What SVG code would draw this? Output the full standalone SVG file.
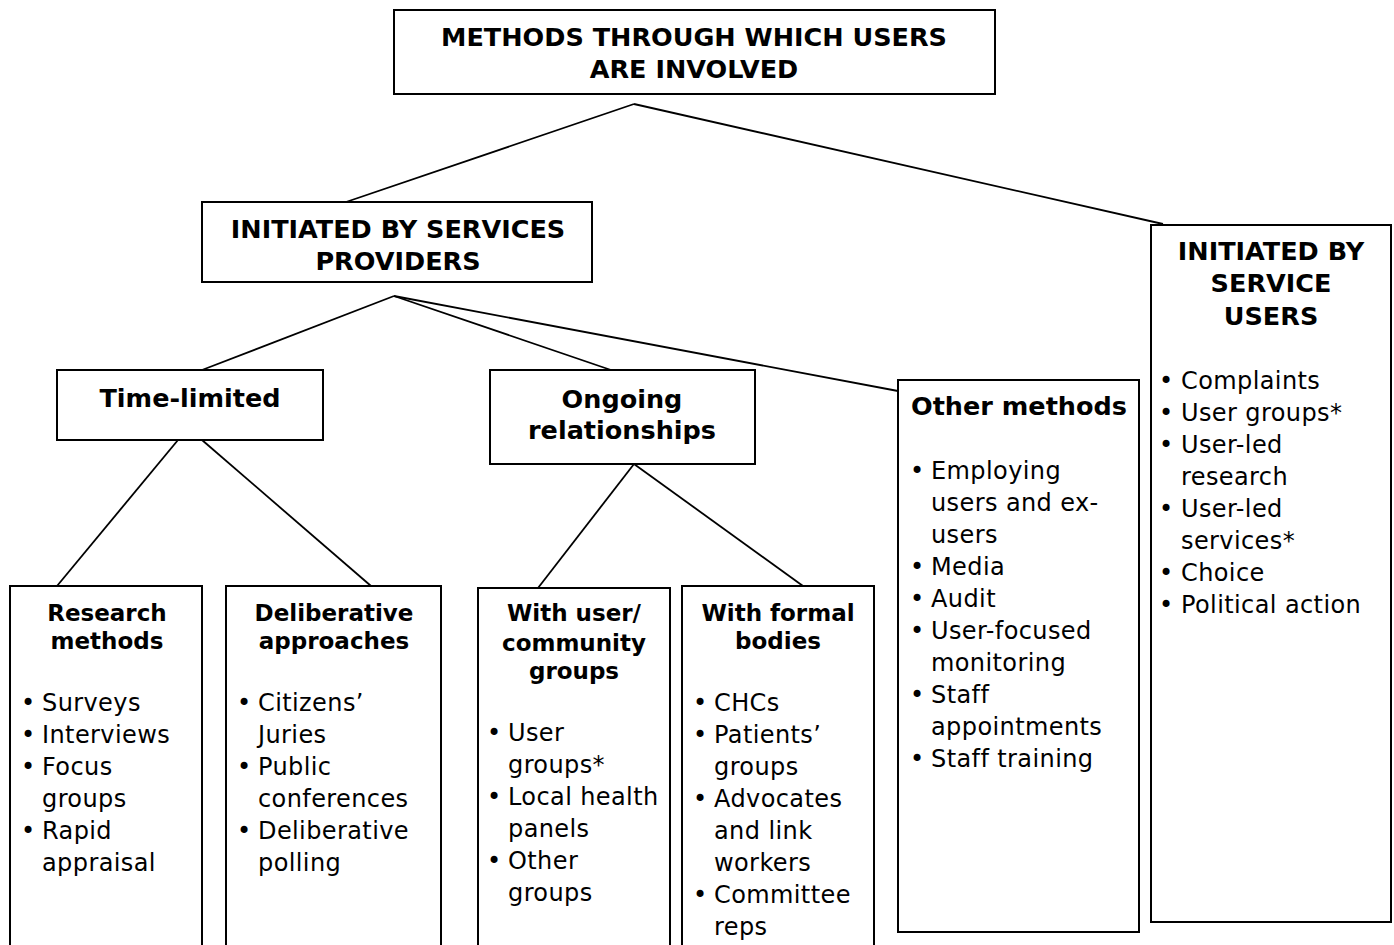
<svg xmlns="http://www.w3.org/2000/svg" width="1394" height="945" viewBox="0 0 1394 945">
<style>
.box{fill:#fff;stroke:#000;stroke-width:2}
.con line{stroke:#000;stroke-width:1.8}
text{font-family:"DejaVu Sans",Verdana,sans-serif;fill:#000}
.h{font-weight:bold;font-size:25.5px;text-anchor:middle}
.hl{font-weight:bold;font-size:25.5px}
.sh{font-weight:bold;font-size:23px;text-anchor:middle}
.t{font-size:24px;letter-spacing:0.4px}
.b{font-size:24px;text-anchor:middle}
</style>
<rect width="1394" height="945" fill="#fff"/>
<g id="connectors" class="con">
<line x1="634" y1="104" x2="346" y2="202"/>
<line x1="634" y1="104" x2="1163" y2="224"/>
<line x1="394" y1="296" x2="202" y2="370"/>
<line x1="394" y1="296" x2="611" y2="370"/>
<line x1="394" y1="296" x2="898" y2="391"/>
<line x1="178" y1="440" x2="57" y2="586"/>
<line x1="202" y1="440" x2="371" y2="586"/>
<line x1="634" y1="464" x2="538" y2="588"/>
<line x1="634" y1="464" x2="803" y2="586"/>
</g>
<g id="root">
<rect class="box" x="394" y="10" width="601" height="84"/>
<text class="h" x="694" y="46">METHODS THROUGH WHICH USERS</text>
<text class="h" x="694" y="78">ARE INVOLVED</text>
</g>
<g id="providers">
<rect class="box" x="202" y="202" width="390" height="80"/>
<text class="h" x="398" y="238">INITIATED BY SERVICES</text>
<text class="h" x="398" y="270">PROVIDERS</text>
</g>
<g id="service-users">
<rect class="box" x="1151" y="225" width="240" height="697"/>
<text class="h" x="1271" y="260">INITIATED BY</text>
<text class="h" x="1271" y="292">SERVICE</text>
<text class="h" x="1271" y="325">USERS</text>
<text class="b" x="1166" y="389">•</text><text class="t" x="1181" y="389">Complaints</text>
<text class="b" x="1166" y="421">•</text><text class="t" x="1181" y="421">User groups*</text>
<text class="b" x="1166" y="453">•</text><text class="t" x="1181" y="453">User-led</text>
<text class="t" x="1181" y="485">research</text>
<text class="b" x="1166" y="517">•</text><text class="t" x="1181" y="517">User-led</text>
<text class="t" x="1181" y="549">services*</text>
<text class="b" x="1166" y="581">•</text><text class="t" x="1181" y="581">Choice</text>
<text class="b" x="1166" y="613">•</text><text class="t" x="1181" y="613">Political action</text>
</g>
<g id="time-limited">
<rect class="box" x="57" y="370" width="266" height="70"/>
<text class="h" x="190" y="407">Time-limited</text>
</g>
<g id="ongoing">
<rect class="box" x="490" y="370" width="265" height="94"/>
<text class="h" x="622" y="408">Ongoing</text>
<text class="h" x="622" y="439">relationships</text>
</g>
<g id="other-methods">
<rect class="box" x="898" y="380" width="241" height="552"/>
<text class="hl" x="911" y="415">Other methods</text>
<text class="b" x="917" y="479">•</text><text class="t" x="931" y="479">Employing</text>
<text class="t" x="931" y="511">users and ex-</text>
<text class="t" x="931" y="543">users</text>
<text class="b" x="917" y="575">•</text><text class="t" x="931" y="575">Media</text>
<text class="b" x="917" y="607">•</text><text class="t" x="931" y="607">Audit</text>
<text class="b" x="917" y="639">•</text><text class="t" x="931" y="639">User-focused</text>
<text class="t" x="931" y="671">monitoring</text>
<text class="b" x="917" y="703">•</text><text class="t" x="931" y="703">Staff</text>
<text class="t" x="931" y="735">appointments</text>
<text class="b" x="917" y="767">•</text><text class="t" x="931" y="767">Staff training</text>
</g>
<g id="research">
<rect class="box" x="10" y="586" width="192" height="380"/>
<text class="sh" x="107" y="621">Research</text>
<text class="sh" x="107" y="649">methods</text>
<text class="b" x="28" y="711">•</text><text class="t" x="42" y="711">Surveys</text>
<text class="b" x="28" y="743">•</text><text class="t" x="42" y="743">Interviews</text>
<text class="b" x="28" y="775">•</text><text class="t" x="42" y="775">Focus</text>
<text class="t" x="42" y="807">groups</text>
<text class="b" x="28" y="839">•</text><text class="t" x="42" y="839">Rapid</text>
<text class="t" x="42" y="871">appraisal</text>
</g>
<g id="deliberative">
<rect class="box" x="226" y="586" width="215" height="380"/>
<text class="sh" x="334" y="621">Deliberative</text>
<text class="sh" x="334" y="649">approaches</text>
<text class="b" x="244" y="711">•</text><text class="t" x="258" y="711">Citizens’</text>
<text class="t" x="258" y="743">Juries</text>
<text class="b" x="244" y="775">•</text><text class="t" x="258" y="775">Public</text>
<text class="t" x="258" y="807">conferences</text>
<text class="b" x="244" y="839">•</text><text class="t" x="258" y="839">Deliberative</text>
<text class="t" x="258" y="871">polling</text>
</g>
<g id="community">
<rect class="box" x="478" y="588" width="192" height="380"/>
<text class="sh" x="574" y="621">With user/</text>
<text class="sh" x="574" y="651">community</text>
<text class="sh" x="574" y="679">groups</text>
<text class="b" x="494" y="741">•</text><text class="t" x="508" y="741">User</text>
<text class="t" x="508" y="773">groups*</text>
<text class="b" x="494" y="805">•</text><text class="t" x="508" y="805">Local health</text>
<text class="t" x="508" y="837">panels</text>
<text class="b" x="494" y="869">•</text><text class="t" x="508" y="869">Other</text>
<text class="t" x="508" y="901">groups</text>
</g>
<g id="formal">
<rect class="box" x="682" y="586" width="192" height="380"/>
<text class="sh" x="778" y="621">With formal</text>
<text class="sh" x="778" y="649">bodies</text>
<text class="b" x="700" y="711">•</text><text class="t" x="714" y="711">CHCs</text>
<text class="b" x="700" y="743">•</text><text class="t" x="714" y="743">Patients’</text>
<text class="t" x="714" y="775">groups</text>
<text class="b" x="700" y="807">•</text><text class="t" x="714" y="807">Advocates</text>
<text class="t" x="714" y="839">and link</text>
<text class="t" x="714" y="871">workers</text>
<text class="b" x="700" y="903">•</text><text class="t" x="714" y="903">Committee</text>
<text class="t" x="714" y="935">reps</text>
</g>
</svg>
